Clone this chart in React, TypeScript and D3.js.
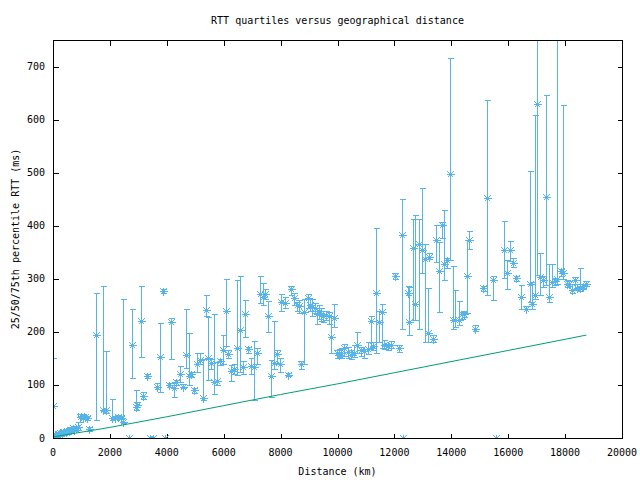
import React from "react";
import * as d3 from "d3";

// Distance (km) of each measured pair
const distanceKm = [
  0, 40, 80, 120, 160, 200, 250, 300, 350, 400, 450, 500, 550, 600, 650, 700, 750, 800, 870,
  950, 1000, 1050, 1120, 1180, 1275, 1497, 1766, 1860, 2082, 2180, 2300, 2400, 2468, 2678,
  2784, 2920, 2960, 3076, 3170, 3287, 3400, 3500, 3673, 3766, 3871, 3954, 4070, 4164, 4257,
  4340, 4468, 4561, 4667, 4772, 4850, 4959, 5076, 5158, 5275, 5380, 5450, 5544, 5661, 5766,
  5871, 5976, 6081, 6151, 6269, 6361, 6480, 6585, 6677, 6747, 6853, 6971, 7063, 7168, 7274,
  7379, 7462, 7555, 7649, 7766, 7884, 7989, 8023, 8140, 8257, 8351, 8468, 8560, 8632, 8726,
  8818, 8958, 9050, 9111, 9200, 9273, 9343, 9428, 9500, 9600, 9695, 9778, 9860, 9989, 10050,
  10130, 10245, 10363, 10480, 10596, 10690, 10830, 10947, 11064, 11181, 11250, 11356, 11450,
  11568, 11650, 11766, 11883, 12035, 12152, 12257, 12316, 12468, 12526, 12643, 12737, 12853,
  12958, 13076, 13168, 13227, 13345, 13463, 13556, 13673, 13754, 13836, 13941, 14046, 14140,
  14257, 14362, 14457, 14538, 14632, 14842, 15123, 15240, 15450, 15579, 15853, 15954, 16060,
  16152, 16270, 16445, 16643, 16760, 16853, 16947, 17029, 17123, 17240, 17345, 17438, 17555,
  17632, 17731, 17849, 17941, 18081, 18150, 18257, 18340, 18430, 18526, 18620, 18725,
];

// Median RTT (ms)
const rttP50 = [
  60, 3, 5, 6, 8, 7, 10, 9, 11, 12, 11, 14, 13, 15, 16, 18, 16, 19, 20,
  40, 42, 40, 39, 38, 17, 195, 53, 52, 37, 38, 40, 38, 31, 0,
  176, 58, 62, 220, 79, 117, 0, 0, 97, 152, 277, 0, 100, 219, 94,
  105, 120, 97, 156, 117, 120, 90, 139, 147, 75, 241, 150, 142, 106, 107,
  145, 166, 239, 159, 127, 130, 169, 203, 133, 233, 167, 136, 134, 161, 272,
  266, 272, 230, 117, 142, 159, 139, 257, 255, 119, 280, 264, 250, 248, 139,
  238, 264, 250, 247, 245, 233, 239, 234, 230, 232, 230, 191, 227, 160, 157,
  160, 169, 163, 157, 160, 175, 165, 164, 168, 220, 173, 274, 218,
  237, 176, 173, 176, 305, 169, 382, 0, 274, 219, 358, 252, 366,
  354, 338, 197, 342, 186, 373, 314, 401, 327, 335, 498, 222, 223,
  223, 233, 234, 305, 373, 206, 282, 453, 297, 0, 355, 310, 355,
  330, 302, 266, 244, 291, 253, 270, 630, 304, 297, 454, 266, 294,
  295, 300, 314, 310, 291, 291, 278, 297, 283, 283, 286, 291,
];

// 25th percentile RTT (ms)
const rttP25 = [
  8, 2, 3, 4, 5, 5, 7, 6, 8, 9, 9, 11, 10, 12, 13, 14, 13, 15, 16,
  30, 38, 36, 35, 34, 14, 33, 50, 48, 33, 35, 36, 35, 28, 0,
  114, 52, 58, 153, 74, 113, 0, 0, 93, 86, 273, 0, 97, 149, 77,
  100, 106, 94, 131, 100, 115, 85, 124, 140, 72, 230, 110, 130, 82, 100,
  137, 140, 174, 150, 107, 120, 119, 125, 120, 190, 160, 120, 72, 140, 255,
  250, 262, 200, 78, 130, 140, 125, 240, 245, 116, 270, 250, 240, 235, 130,
  140, 245, 240, 230, 235, 215, 225, 220, 218, 222, 215, 160, 210, 150, 152,
  150, 155, 150, 148, 152, 160, 155, 150, 158, 170, 165, 160, 180,
  170, 168, 165, 170, 300, 162, 206, 0, 270, 194, 222, 222, 205,
  310, 181, 181, 337, 181, 332, 237, 376, 297, 320, 335, 206, 210,
  212, 225, 228, 235, 356, 202, 277, 269, 260, 0, 302, 280, 334,
  322, 296, 244, 244, 256, 244, 262, 308, 270, 285, 288, 257, 285,
  288, 290, 305, 300, 285, 286, 274, 280, 278, 277, 281, 287,
];

// 75th percentile RTT (ms)
const rttP75 = [
  150, 5, 7, 9, 11, 10, 13, 12, 14, 15, 15, 17, 16, 19, 20, 22, 20, 23, 30,
  45, 45, 44, 42, 42, 20, 274, 286, 164, 73, 42, 43, 41, 261, 0,
  244, 90, 67, 286, 86, 121, 0, 0, 103, 216, 280, 0, 103, 227, 103,
  110, 136, 101, 244, 197, 124, 95, 161, 160, 149, 270, 228, 148, 233, 143,
  148, 194, 300, 165, 137, 140, 297, 305, 145, 260, 172, 150, 183, 170, 305,
  293, 280, 258, 147, 220, 165, 150, 272, 265, 122, 287, 274, 257, 260, 145,
  262, 272, 262, 262, 255, 245, 250, 245, 240, 240, 238, 230, 252, 166, 168,
  170, 178, 172, 165, 175, 200, 172, 168, 180, 230, 180, 395, 240,
  252, 185, 178, 182, 311, 175, 451, 0, 286, 285, 413, 421, 412,
  472, 366, 282, 348, 195, 401, 369, 407, 430, 340, 717, 324, 278,
  259, 238, 240, 373, 390, 213, 287, 637, 305, 0, 409, 336, 371,
  340, 306, 288, 248, 504, 294, 609, 800, 349, 305, 647, 327, 327,
  302, 800, 318, 627, 298, 296, 290, 303, 290, 321, 290, 295,
];

// Lower bound line (speed of light in fibre)
const boundKm = [0, 2000, 4000, 6000, 8000, 10000, 12000, 14280, 16000, 18000, 18750];
const boundMs = [2, 20, 40, 61, 82, 102, 123, 147, 165, 186, 194];

const xTicks = [0, 2000, 4000, 6000, 8000, 10000, 12000, 14000, 16000, 18000, 20000];
const yTicks = [0, 100, 200, 300, 400, 500, 600, 700];

const W = 640;
const H = 480;
const L = 53;
const R = 622;
const T = 40;
const B = 438;
const BLUE = "#56b4e9";
const GREEN = "#009e73";
const FONT = "'DejaVu Sans Mono', monospace";

export default function App() {
  const x = d3.scaleLinear().domain([0, 20000]).range([L, R]);
  const y = d3.scaleLinear().domain([0, 750]).range([B, T]);
  const px = (v: number) => Math.round(x(v)) + 0.5;
  const py = (v: number) => Math.round(y(v)) + 0.5;

  const line = d3
    .line<number>()
    .x((_, i) => x(boundKm[i]))
    .y((d) => y(d));

  const bars = distanceKm.map((d, i) => {
    const cx = px(d);
    const cy = py(rttP50[i]);
    const yl = py(rttP25[i]);
    const yh = py(rttP75[i]);
    const hasBar = rttP75[i] !== rttP25[i];
    const s = 4;
    const s2 = 3;
    return (
      <g key={i}>
        {hasBar && (
          <>
            <line x1={cx} x2={cx} y1={yl} y2={yh} />
            <line x1={cx - 3} x2={cx + 3} y1={yl} y2={yl} />
            <line x1={cx - 3} x2={cx + 3} y1={yh} y2={yh} />
          </>
        )}
        <line x1={cx - s} x2={cx + s} y1={cy} y2={cy} />
        <line x1={cx} x2={cx} y1={cy - s} y2={cy + s} />
        <line x1={cx - s2} x2={cx + s2} y1={cy - s2} y2={cy + s2} />
        <line x1={cx - s2} x2={cx + s2} y1={cy + s2} y2={cy - s2} />
      </g>
    );
  });

  return (
    <div style={{ position: "fixed", left: 0, top: 0, width: W, height: H, background: "#fff" }}>
      <svg width={W} height={H} viewBox={`0 0 ${W} ${H}`} style={{ display: "block" }}>
        <defs>
          <clipPath id="plotclip">
            <rect x={L} y={T} width={R - L + 1} height={B - T + 1} />
          </clipPath>
        </defs>
        <rect x={0} y={0} width={W} height={H} fill="#fff" />
        <text x={(L + R) / 2} y={24} textAnchor="middle" fontFamily={FONT} fontSize={10} fill="#000">
          RTT quartiles versus geographical distance
        </text>
        <text
          transform={`translate(19,${(T + B) / 2}) rotate(-90)`}
          textAnchor="middle"
          fontFamily={FONT}
          fontSize={10}
          fill="#000"
        >
          25/50/75th percentile RTT (ms)
        </text>
        <text x={(L + R) / 2} y={475} textAnchor="middle" fontFamily={FONT} fontSize={10} fill="#000">
          Distance (km)
        </text>

        <g stroke="#000" strokeWidth={1} shapeRendering="crispEdges">
          {xTicks.map((t) => (
            <g key={"xt" + t}>
              <line x1={px(t)} x2={px(t)} y1={B + 0.5} y2={B + 0.5 - 5} />
              <line x1={px(t)} x2={px(t)} y1={T + 0.5} y2={T + 0.5 + 5} />
            </g>
          ))}
          {yTicks.map((t) => (
            <g key={"yt" + t}>
              <line x1={L + 0.5} x2={L + 0.5 + 5} y1={py(t)} y2={py(t)} />
              <line x1={R + 0.5} x2={R + 0.5 - 5} y1={py(t)} y2={py(t)} />
            </g>
          ))}
        </g>
        <g fontFamily={FONT} fontSize={10} fill="#000">
          {xTicks.map((t) => (
            <text key={"xl" + t} x={x(t)} y={456} textAnchor="middle">
              {t}
            </text>
          ))}
          {yTicks.map((t) => (
            <text key={"yl" + t} x={45} y={y(t) + 3.5} textAnchor="end">
              {t}
            </text>
          ))}
        </g>

        <g clipPath="url(#plotclip)" stroke={BLUE} strokeWidth={1} shapeRendering="crispEdges" fill="none">
          {bars}
        </g>
        <g clipPath="url(#plotclip)">
          <path d={line(boundMs) || ""} fill="none" stroke={GREEN} strokeWidth={1} />
        </g>
        <rect
          x={L + 0.5}
          y={T + 0.5}
          width={R - L}
          height={B - T}
          fill="none"
          stroke="#000"
          strokeWidth={1}
          shapeRendering="crispEdges"
        />
      </svg>
    </div>
  );
}
